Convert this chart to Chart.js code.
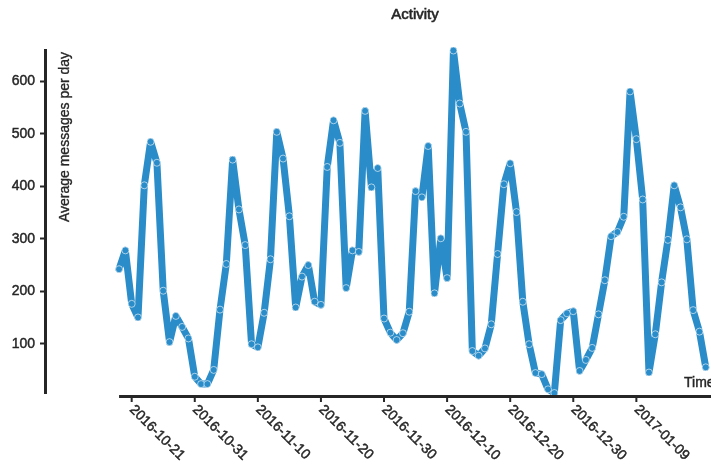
<!DOCTYPE html>
<html>
<head>
<meta charset="utf-8">
<title>Activity</title>
<script src="https://cdn.jsdelivr.net/npm/chart.js@4.4.1/dist/chart.umd.min.js"></script>
<style>
    html, body { margin: 0; padding: 0; background: #fff; overflow: hidden; }
</style>
</head>
<body>
<canvas id="myChart" width="711" height="466"></canvas>
<script>
// one point per day, starting at startDate
const startDate = '2016-10-19';
const messages = [
    242, 278, 176, 150, 402, 485, 445, 201, 103, 153,
    132, 110, 37, 23, 23, 50, 165, 252, 451, 356,
    288, 99, 93, 159, 261, 504, 453, 343, 169, 228,
    250, 180, 174, 437, 526, 483, 206, 278, 275, 544,
    398, 435, 148, 121, 107, 120, 161, 391, 379, 477,
    196, 301, 225, 659, 558, 504, 86, 77, 91, 137,
    271, 404, 444, 351, 180, 99, 44, 42, 13, 6,
    145, 158, 162, 48, 69, 92, 156, 221, 305, 313,
    342, 581, 490, 375, 45, 118, 217, 298, 402, 360,
    299, 164, 123, 55
];
const tickLabels = ['2016-10-21', '2016-10-31', '2016-11-10', '2016-11-20', '2016-11-30',
    '2016-12-10', '2016-12-20', '2016-12-30', '2017-01-09'];
const yTicks = [100, 200, 300, 400, 500, 600];

const ink = '#262626';
const blue = '#2a8cc8';
const font = '"Liberation Sans", Arial, sans-serif';

function dayOf(s) {
    return Math.round((Date.parse(s) - Date.parse(startDate)) / 864e5);
}

// text a touch heavier, like the reference
function heavyText(ctx, text, x, y) {
    ctx.strokeText(text, x, y);
    ctx.fillText(text, x, y);
}

// seaborn-style offset spine, rotated date labels and free-floating texts
const decor = {
    id: 'decor',
    afterDraw(chart) {
        const ctx = chart.ctx;
        const x = chart.scales.x;
        const area = chart.chartArea;
        const left = x.getPixelForValue(0);
        const y0 = area.bottom + 3.5;
        ctx.save();
        ctx.strokeStyle = ink;
        ctx.fillStyle = ink;
        ctx.lineWidth = 3;
        ctx.beginPath();
        ctx.moveTo(left, y0);
        ctx.lineTo(chart.width, y0);
        ctx.stroke();

        ctx.font = '14px ' + font;
        ctx.textAlign = 'left';
        ctx.textBaseline = 'top';
        for (let label of tickLabels) {
            let px = x.getPixelForValue(dayOf(label));
            ctx.lineWidth = 2;
            ctx.beginPath();
            ctx.moveTo(px, y0);
            ctx.lineTo(px, y0 + 5.5);
            ctx.stroke();
            ctx.save();
            ctx.translate(px + 5, y0 + 6);
            ctx.rotate(Math.PI / 4);
            ctx.lineWidth = 0.45;
            heavyText(ctx, label, 0, 0);
            ctx.restore();
        }

        ctx.lineWidth = 0.45;
        ctx.textBaseline = 'middle';
        heavyText(ctx, 'Time', 684, 383);

        ctx.textAlign = 'center';
        ctx.font = '15px ' + font;
        ctx.lineWidth = 0.6;
        heavyText(ctx, 'Activity', (left + chart.width) / 2, 15);

        ctx.font = '14px ' + font;
        ctx.lineWidth = 0.35;
        ctx.save();
        ctx.translate(65, 137);
        ctx.rotate(-Math.PI / 2);
        heavyText(ctx, 'Average messages per day', 0, 0);
        ctx.restore();
        ctx.restore();
    }
};

new Chart(document.getElementById('myChart'), {
    type: 'line',
    data: {
        datasets: [{
            data: messages.map((v, i) => ({ x: i, y: v })),
            borderColor: blue,
            borderWidth: 7,
            borderJoinStyle: 'round',
            borderCapStyle: 'round',
            backgroundColor: blue,
            pointRadius: 3.5,
            pointBackgroundColor: blue,
            pointBorderColor: 'rgba(255,255,255,0.75)',
            pointBorderWidth: 0.8,
            tension: 0,
            clip: false
        }]
    },
    options: {
        responsive: false,
        animation: false,
        layout: { padding: { top: 50, left: 0, right: 0, bottom: 0 } },
        plugins: {
            legend: { display: false },
            tooltip: { enabled: false },
            title: { display: false }
        },
        scales: {
            x: {
                type: 'linear',
                min: -11.74,
                max: 93.07,
                border: { display: false },
                grid: { display: false },
                ticks: { display: false },
                afterFit: (scale) => { scale.height = 73; }
            },
            y: {
                min: 6,
                max: 660,
                border: { display: true, color: ink, width: 3 },
                grid: {
                    drawOnChartArea: false,
                    drawTicks: true,
                    tickLength: 5,
                    tickColor: ink,
                    tickWidth: 2
                },
                ticks: {
                    color: ink,
                    padding: 5,
                    textStrokeColor: ink,
                    textStrokeWidth: 0.45,
                    font: { family: font, size: 14 }
                },
                afterBuildTicks: (scale) => { scale.ticks = yTicks.map((v) => ({ value: v })); },
                afterFit: (scale) => { scale.width = 45; }
            }
        }
    },
    plugins: [decor]
});
</script>
</body>
</html>
